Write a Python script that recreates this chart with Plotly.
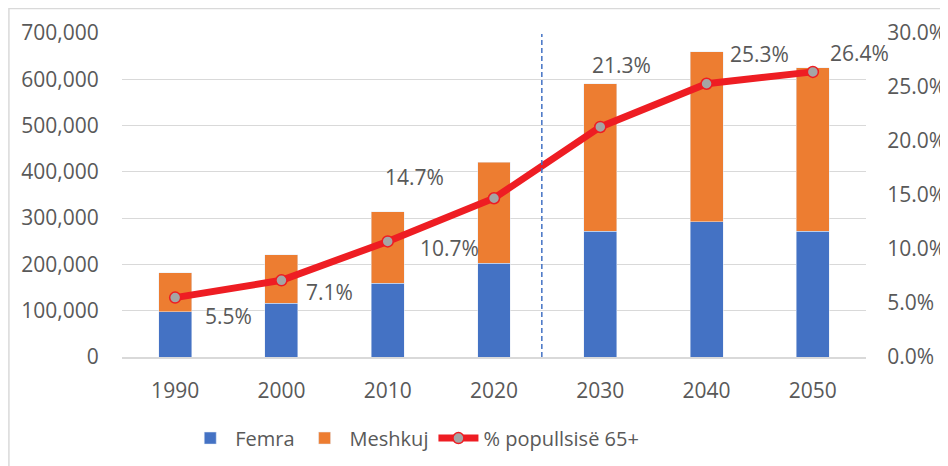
import plotly.graph_objects as go

years = ["1990", "2000", "2010", "2020", "2030", "2040", "2050"]
femra = [98000, 116000, 159000, 203000, 272000, 292000, 272000]
meshkuj = [84000, 105000, 155000, 218000, 318000, 368000, 353000]
pct65 = [0.055, 0.071, 0.107, 0.147, 0.213, 0.253, 0.264]
pct_labels = ["5.5%", "7.1%", "10.7%", "14.7%", "21.3%", "25.3%", "26.4%"]

# pixel offsets of the data labels relative to their points
label_shift = [(53, -18), (48, -12), (62, -7), (-80, 21), (21, 62), (53, 30), (47, 19)]

GRAY = "#595959"
FONT = "Open Sans"
FS = 21

fig = go.Figure()
fig.add_trace(go.Bar(x=years, y=femra, name="Femra", marker_color="#4472C4"))
fig.add_trace(go.Bar(x=years, y=meshkuj, name="Meshkuj", marker_color="#ED7D31"))
fig.add_trace(go.Scatter(
    x=years, y=pct65, name="% popullsisë 65+", yaxis="y2",
    mode="lines+markers",
    line=dict(color="#EE1D23", width=7),
    marker=dict(size=11, color="#A5A5A5", line=dict(color="#EE1D23", width=1.5)),
))

for i, (v, t) in enumerate(zip(pct65, pct_labels)):
    dx, dy = label_shift[i]
    fig.add_annotation(x=i, y=v, xref="x", yref="y2", text=t, showarrow=False,
                       xshift=dx, yshift=dy, font=dict(family=FONT, size=FS, color=GRAY))

fig.add_shape(type="line", xref="x", yref="paper", x0=3.45, x1=3.45, y0=0, y1=0.997,
              line=dict(color="#4472C4", width=1.5, dash="5px,3px"))
fig.add_shape(type="rect", xref="paper", yref="paper", x0=-0.152, x1=1.3, y0=-0.6, y1=1.076,
              line=dict(color="#D9D9D9", width=1.5), layer="below")

fig.update_layout(
    width=940, height=458,
    margin=dict(l=114, r=82, t=25, b=109, autoexpand=False),
    barmode="stack", bargap=0.69,
    plot_bgcolor="white", paper_bgcolor="white",
    font=dict(family=FONT, size=FS, color=GRAY),
    showlegend=True,
    legend=dict(orientation="h", x=0.085, y=-0.19, xanchor="left", yanchor="top",
                font=dict(family=FONT, size=20, color=GRAY), traceorder="normal",
                itemwidth=40),
    xaxis=dict(type="category", range=[-0.5, 6.5], showgrid=False, showline=True,
               linecolor="#D9D9D9", linewidth=2,
               ticks="outside", ticklen=14, tickcolor="rgba(0,0,0,0)", automargin=False,
               tickfont=dict(family=FONT, size=FS, color=GRAY)),
    yaxis=dict(range=[0, 700000], dtick=100000, tickformat=",", showgrid=True,
               gridcolor="#D9D9D9", gridwidth=1, zeroline=False, automargin=False,
               ticks="outside", ticklen=18, tickcolor="rgba(0,0,0,0)",
               tickfont=dict(family=FONT, size=FS, color=GRAY)),
    yaxis2=dict(range=[0, 0.30], dtick=0.05, tickformat=".1%", overlaying="y", side="right",
                showgrid=False, zeroline=False, automargin=False,
                ticks="outside", ticklen=16, tickcolor="rgba(0,0,0,0)",
                tickfont=dict(family=FONT, size=FS, color=GRAY)),
)

fig.write_html("out.html")
